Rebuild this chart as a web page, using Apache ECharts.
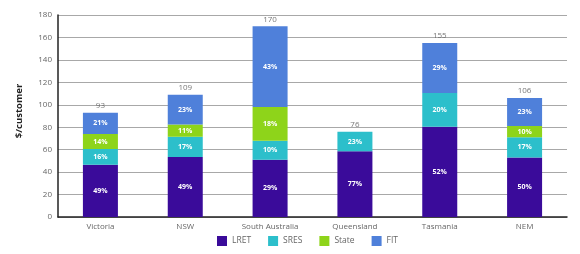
<!DOCTYPE html>
<html><head><meta charset="utf-8">
<script src="https://cdn.jsdelivr.net/npm/echarts@6/dist/echarts.min.js"></script>
<style>html,body{margin:0;padding:0;background:#fff}#c{width:580px;height:254px}</style>
</head><body><div id="c"></div>
<script>
const categories = ['Victoria','NSW','South Australia','Queensland','Tasmania','NEM'];
const totals = [93,109,170,76,155,106];
const lret = [46.5,53.5,51,58.5,80.5,53];
const sres = [14,18,17,17.5,30,18];
const state = [13.5,11,30,null,null,10];
const fit = [19,26.5,72,null,44.5,25];
const lretPct = ['49%','49%','29%','77%','52%','50%'];
const sresPct = ['16%','17%','10%','23%','20%','17%'];
const statePct = ['14%','11%','18%','','','10%'];
const fitPct = ['21%','23%','43%','','29%','23%'];
const yTicks = [0,20,40,60,80,100,120,140,160,180];

const colors = {LRET:'#3a0b9a', SRES:'#2cbfcb', State:'#8ed41a', FIT:'#4f80da'};
const chart = echarts.init(document.getElementById('c'));
function mk(name, data, pcts){
  return {name, type:'bar', stack:'t', barWidth:35, data,
    itemStyle:{color:colors[name]},
    label:{show:true, position:'inside', color:'#fff', fontSize:7, fontWeight:'bold', fontFamily:'Open Sans',
      formatter:p=>pcts[p.dataIndex]}};
}
const series = [mk('LRET',lret,lretPct), mk('SRES',sres,sresPct), mk('State',state,statePct), mk('FIT',fit,fitPct),
 {name:'total', type:'scatter', data:totals, symbolSize:0, silent:true,
  label:{show:true, position:'top', distance:3, color:'#555', fontSize:8, fontFamily:'Open Sans', formatter:p=>totals[p.dataIndex]}}];
chart.setOption({
  animation:false,
  grid:{left:58, right:13, top:15, bottom:37},
  legend:{data:['LRET','SRES','State','FIT'], bottom:3, left:212, itemWidth:10, itemHeight:10, itemGap:17,
    icon:'rect', textStyle:{fontSize:8.5, color:'#666', fontFamily:'Open Sans'}},
  xAxis:{type:'category', data:categories, axisTick:{show:false},
    axisLine:{lineStyle:{color:'#222', width:1.5}},
    axisLabel:{fontSize:8, color:'#666', fontFamily:'Open Sans', margin:6}},
  yAxis:{type:'value', min:yTicks[0], max:yTicks[yTicks.length-1], interval:20,
    name:'$/customer', nameLocation:'middle', nameGap:34, nameRotate:90,
    nameTextStyle:{fontSize:9.5, fontWeight:'bold', color:'#222', fontFamily:'Open Sans', padding:[0,0,0,10]},
    axisLine:{show:true, lineStyle:{color:'#222', width:1.5}},
    axisTick:{show:false},
    axisLabel:{fontSize:8, color:'#666', fontFamily:'Open Sans', margin:6},
    splitLine:{lineStyle:{color:'#a8a8a8', width:1}}},
  series
});
</script></body></html>
